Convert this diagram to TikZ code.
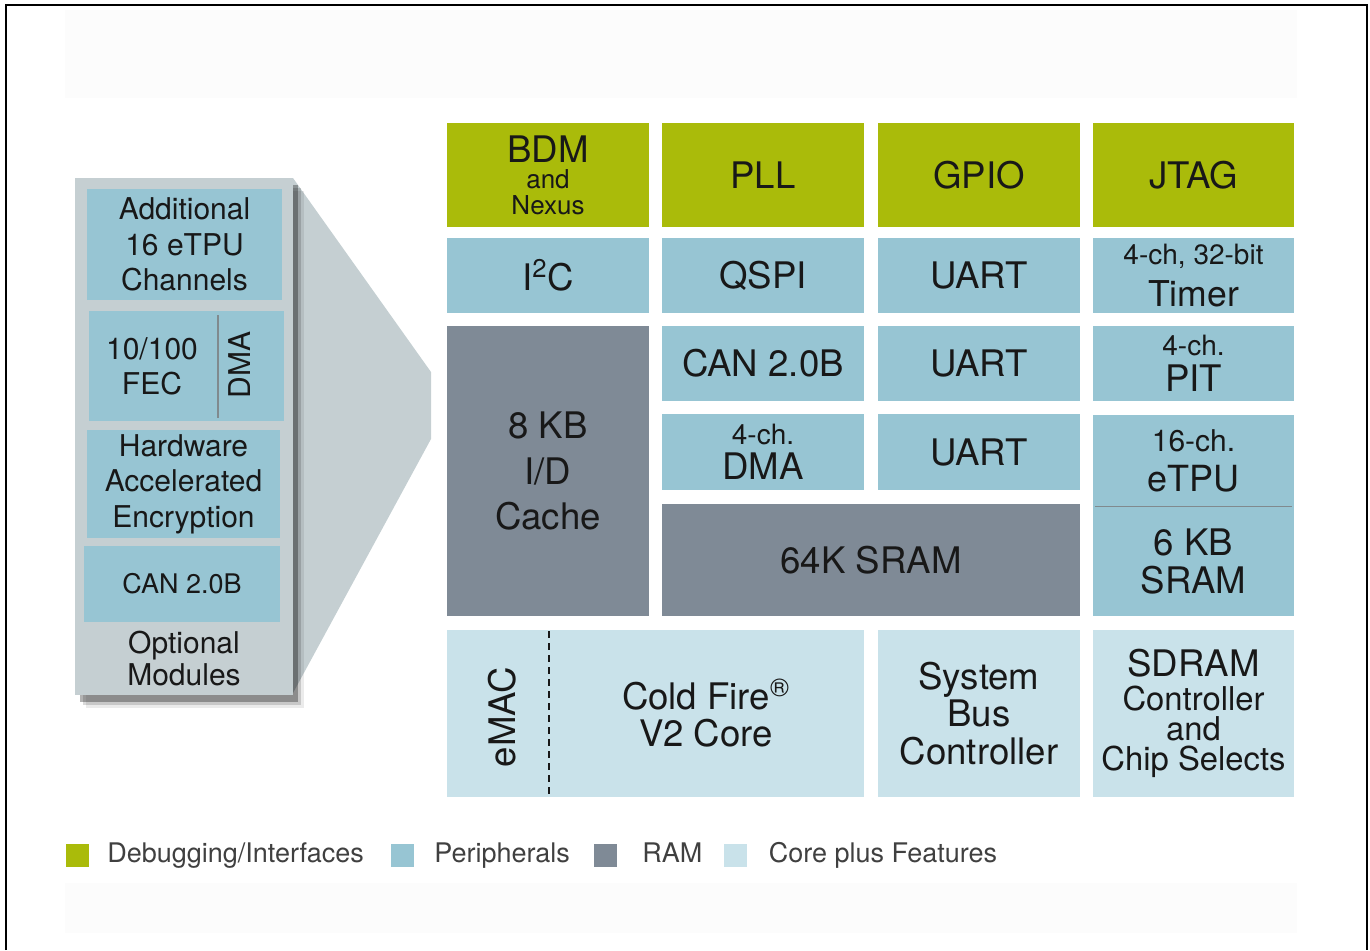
\documentclass[tikz,border=0pt]{standalone}
\usepackage{fontspec}
\setmainfont{TeX Gyre Heros}
\usetikzlibrary{positioning,shadows}
\definecolor{dbgc}{RGB}{170,187,10}
\definecolor{peric}{RGB}{151,197,211}
\definecolor{ramc}{RGB}{127,138,150}
\definecolor{corec}{RGB}{201,226,234}
\definecolor{panelc}{RGB}{197,207,210}
\definecolor{bandc}{RGB}{252,252,252}
\definecolor{inkc}{RGB}{24,24,24}
\definecolor{legc}{RGB}{64,64,64}
\definecolor{divc}{RGB}{128,138,142}

\begin{document}
\begin{tikzpicture}[x=0.5pt,y=-0.5pt,
	blk/.style={rectangle,inner sep=0pt,outer sep=0pt,align=center,text=inkc,font=\fontsize{18.3}{22}\selectfont},
	sz/.style 2 args={minimum width=#1*0.5pt,minimum height=#2*0.5pt},
	dbg/.style={blk,fill=dbgc},
	peri/.style={blk,fill=peric},
	ram/.style={blk,fill=ramc},
	core/.style={blk,fill=corec},
	opt/.style={blk,fill=peric,font=\fontsize{15}{17.75}\selectfont},
	key/.style={rectangle,inner sep=0pt,minimum size=11.5pt},
	keytext/.style={inner sep=0pt,text=legc,font=\fontsize{13.5}{16}\selectfont,text height=1.5ex,text depth=.25ex}]
	\useasboundingbox (0,0) rectangle (1370,950);
	\fill[bandc] (65,10) rectangle (1297,98);
	\fill[bandc] (65,883) rectangle (1297,933);
	\draw[line width=1pt] (6,950) -- (6,5) -- (1367,5) -- (1367,950);

	\fill[panelc] (293,178) -- (431,372) -- (431,439) -- (293,693) -- cycle;
	\node[blk,fill=panelc,sz={218}{517},
		drop shadow={shadow xshift=5.5pt,shadow yshift=-6.5pt,opacity=.08,fill=black},
		drop shadow={shadow xshift=4pt,shadow yshift=-5pt,opacity=.15,fill=black},
		drop shadow={shadow xshift=2.5pt,shadow yshift=-3.5pt,opacity=.3,fill=black}] (panel) at (184,436.5) {};
	\node[opt,sz={195}{111}] (addl) at (184.5,244.5) {Additional\\16 eTPU\\Channels};
	\node[opt,sz={195}{110}] (fec) at (186.5,366) {};
	\node[blk,font=\fontsize{15}{17.5}\selectfont] (fec_t) at (152,366) {10/100\\FEC};
	\node[blk,font=\fontsize{15}{17.5}\selectfont,rotate=90] (fec_dma) at (240,365) {DMA};
	\coordinate (fd_top) at (218,315);
	\coordinate (fd_bot) at (218,418);
	\draw[divc,line width=0.6pt] (fd_top) -- (fd_bot);
	\node[opt,sz={193}{108}] (hw) at (183.5,484) {Hardware\\Accelerated\\Encryption};
	\node[opt,sz={196}{76},font=\fontsize{13.5}{16}\selectfont] (can_opt) at (182,584) {CAN 2.0B};
	\node[blk,font=\fontsize{15}{16.5}\selectfont] (optmod) at (184,658.5) {Optional\\Modules};

	\node[dbg,sz={202}{104},font=\fontsize{18.3}{13}\selectfont] (bdm) at (548,175) {BDM\\{\fontsize{13}{13}\selectfont and}\\{\fontsize{13}{13}\selectfont Nexus}};
	\node[dbg,sz={202}{104}] (pll) at (763,175) {PLL};
	\node[dbg,sz={202}{104}] (gpio) at (979,175) {GPIO};
	\node[dbg,sz={201}{104}] (jtag) at (1193.5,175) {JTAG};

	\node[peri,sz={202}{75}] (i2c) at (548,275.5) {I\textsuperscript{2}C};
	\node[peri,sz={202}{75}] (qspi) at (763,275.5) {QSPI};
	\node[peri,sz={202}{75}] (uart_1) at (979,275.5) {UART};
	\node[peri,sz={201}{75},font=\fontsize{17.8}{21}\selectfont] (timer) at (1193.5,275.5) {{\fontsize{14}{14}\selectfont 4-ch, 32-bit}\\Timer};

	\node[ram,sz={202}{290},font=\fontsize{18.3}{22.75}\selectfont] (cache) at (548,471) {8 KB\\I/D\\Cache};
	\node[peri,sz={202}{75}] (can) at (763,363.5) {CAN 2.0B};
	\node[peri,sz={202}{75}] (uart_2) at (979,363.5) {UART};
	\node[peri,sz={201}{75},font=\fontsize{18.3}{18}\selectfont] (pit) at (1193.5,363.5) {{\fontsize{14}{14}\selectfont 4-ch.}\\PIT};
	\node[peri,sz={202}{76},font=\fontsize{18.3}{17.5}\selectfont] (dma) at (763,452) {{\fontsize{14}{14}\selectfont 4-ch.}\\DMA};
	\node[peri,sz={202}{76}] (uart_3) at (979,452) {UART};
	\node[peri,sz={201}{92},font=\fontsize{18}{20}\selectfont] (etpu) at (1193.5,460.5) {{\fontsize{15}{15}\selectfont 16-ch.}\\eTPU};
	\node[peri,sz={201}{109},font=\fontsize{18.3}{19}\selectfont] (sram_6) at (1193.5,561.5) {6 KB\\SRAM};
	\draw[divc,line width=0.75pt] ([xshift=1pt]etpu.south west) -- ([xshift=-1pt]etpu.south east);
	\node[ram,sz={418}{112}] (sram_64) at (871,560) {64K SRAM};

	\node[core,sz={417}{167}] (core) at (655.5,713.5) {};
	\node[blk,rotate=90] (emac) at (502,717) {eMAC};
	\node[blk,font=\fontsize{18.3}{18.5}\selectfont] (cf) at (706,713) {Cold Fire\textsuperscript{®}\\V2 Core};
	\coordinate (cd_top) at (549,631);
	\coordinate (cd_bot) at (549,797);
	\draw[inkc,line width=0.6pt,dash pattern=on 3.5pt off 2.5pt] (cd_top) -- (cd_bot);
	\node[core,sz={202}{167},font=\fontsize{18.3}{18.75}\selectfont] (sysbus) at (979,713.5) {System\\Bus\\Controller};
	\node[core,sz={201}{167},font=\fontsize{16.4}{15}\selectfont] (sdram) at (1193.5,713.5) {{\fontsize{18.3}{15}\selectfont SDRAM}\\[2pt]Controller\\and\\Chip Selects};

	\node[key,fill=dbgc] (key_1) at (77,855.5) {};
	\node[keytext,right=9pt of key_1] (keyt_1) {Debugging/Interfaces};
	\node[key,fill=peric] (key_2) at (402,855.5) {};
	\node[keytext,right=10pt of key_2] (keyt_2) {Peripherals};
	\node[key,fill=ramc] (key_3) at (605,855.5) {};
	\node[keytext,right=12.5pt of key_3] (keyt_3) {RAM};
	\node[key,fill=corec] (key_4) at (735.5,855.5) {};
	\node[keytext,right=10.5pt of key_4] (keyt_4) {Core plus Features};
\end{tikzpicture}
\end{document}
